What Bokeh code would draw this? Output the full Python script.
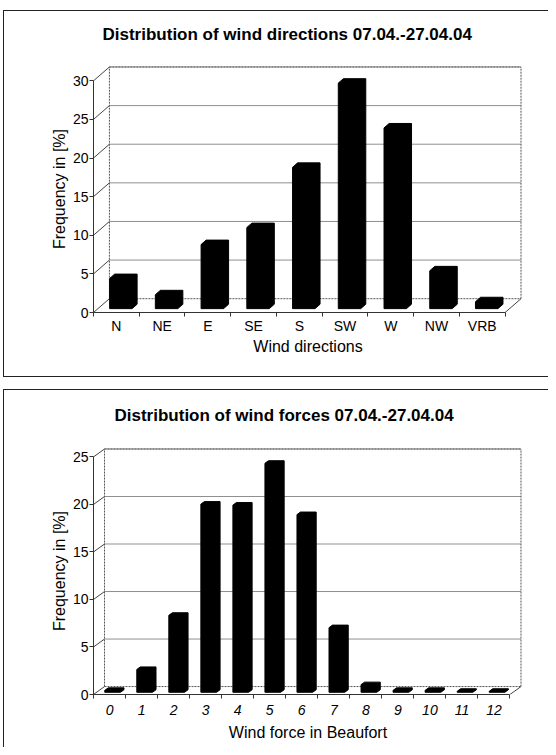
from bokeh.plotting import figure
from bokeh.models import Range1d, FixedTicker
from bokeh.layouts import column
from bokeh.embed import file_html
from bokeh.resources import INLINE

# ---------------- data ----------------
directions = ["N", "NE", "E", "SE", "S", "SW", "W", "NW", "VRB"]
direction_freq = [3.9, 1.8, 8.3, 10.5, 18.3, 29.2, 23.4, 4.9, 0.9]
direction_yticks = [0, 5, 10, 15, 20, 25, 30]

beaufort = ["0", "1", "2", "3", "4", "5", "6", "7", "8", "9", "10", "11", "12"]
beaufort_freq = [0.2, 2.4, 8.1, 19.8, 19.7, 24.1, 18.7, 6.8, 0.8, 0.2, 0.2, 0.1, 0.1]
beaufort_yticks = [0, 5, 10, 15, 20, 25]

title_directions = "Distribution of wind directions 07.04.-27.04.04"
title_forces = "Distribution of wind forces 07.04.-27.04.04"
xlabel_directions = "Wind directions"
xlabel_forces = "Wind force in Beaufort"
ylabel = "Frequency in [%]"

FONT = "Liberation Sans"


def border_css(W, top, bottom, left=3):
    h = bottom - top
    w = W - left
    return {
        "background-image": "linear-gradient(#222,#222), linear-gradient(#222,#222), linear-gradient(#222,#222)",
        "background-size": f"1px {h}px, {w}px 1px, {w}px 1px",
        "background-position": f"{left}px {top}px, {left}px {top}px, {left}px {bottom}px",
        "background-repeat": "no-repeat",
    }


def panel(cats, vals, yticks, title_text, xlabel, italic, W, H, fl, ft,
          cat_px, upx, depth_x, depth_y, border_top, border_bottom,
          title_offset, title_standoff, tick_standoff, xlabel_standoff):
    n = len(cats)
    ymax = yticks[-1]
    pad = 1.5
    dx = depth_x / cat_px
    dy = depth_y / upx
    frame_w = n * cat_px + depth_x + pad
    frame_h = ymax * upx + depth_y + pad
    top = ft - pad
    p = figure(width=W, height=H,
               x_range=Range1d(0, n + dx + pad / cat_px),
               y_range=Range1d(0, ymax + dy + pad / upx),
               min_border_left=fl, min_border_right=int(round(W - fl - frame_w)),
               min_border_top=int(round(top)), min_border_bottom=int(round(H - top - frame_h)),
               output_backend="svg", toolbar_location=None, tools="",
               styles=border_css(W, border_top, border_bottom))
    p.grid.visible = False
    p.outline_line_color = None
    p.background_fill_color = "white"
    p.border_fill_alpha = 0

    # title
    p.title.text = title_text
    p.title.align = "left"
    p.title.offset = title_offset
    p.title.standoff = title_standoff
    p.title.text_font = FONT
    p.title.text_font_size = "17px"
    p.title.text_font_style = "bold"
    p.title.text_color = "black"

    # walls: back wall gridlines
    gv = yticks[1:]
    p.segment(x0=[dx] * len(gv), y0=[v + dy for v in gv],
              x1=[n + dx] * len(gv), y1=[v + dy for v in gv],
              line_color="#8f8f8f", line_width=1)
    # side wall diagonals
    p.segment(x0=[0] * len(yticks), y0=list(yticks),
              x1=[dx] * len(yticks), y1=[v + dy for v in yticks],
              line_color="#444444", line_width=1)
    # dotted wall edges
    ex0 = [dx, dx, n + dx, dx]
    ey0 = [dy, ymax + dy, dy, dy]
    ex1 = [dx, n + dx, n + dx, n + dx]
    ey1 = [ymax + dy, ymax + dy, ymax + dy, dy]
    p.segment(x0=ex0, y0=ey0, x1=ex1, y1=ey1, line_color="#555555",
              line_width=1, line_dash="2 1")
    # floor right diagonal
    p.segment(x0=[n], y0=[0], x1=[n + dx], y1=[dy], line_color="#444444", line_width=1)

    # 3D bars
    a, b = 0.28, 0.60
    hw = 0.245
    xs, ys = [], []
    for i, v in enumerate(vals):
        c = i + 0.5
        xs.append([c - hw + a * dx, c + hw + a * dx, c + hw + b * dx,
                   c + hw + b * dx, c - hw + b * dx, c - hw + a * dx])
        ys.append([a * dy, a * dy, b * dy, v + b * dy, v + b * dy, v + a * dy])
    p.patches(xs, ys, fill_color="black", line_color="black", line_width=1)

    # y axis (front)
    ya = p.yaxis[0]
    ya.ticker = FixedTicker(ticks=list(yticks))
    ya.bounds = (0, ymax)
    ya.axis_line_color = "#333333"
    ya.major_tick_line_color = "#333333"
    ya.major_tick_out = 4
    ya.major_tick_in = 0
    ya.minor_tick_out = 0
    ya.minor_tick_in = 0
    ya.major_label_standoff = 1
    ya.major_label_text_font = FONT
    ya.major_label_text_font_size = "14px"
    ya.major_label_text_color = "black"
    ya.axis_label = ylabel
    ya.axis_label_text_font = FONT
    ya.axis_label_text_font_size = "16px"
    ya.axis_label_text_font_style = "normal"
    ya.axis_label_text_color = "black"
    ya.axis_label_standoff = 2

    # x axis (front)
    centers = [i + 0.5 for i in range(n)]
    xa = p.xaxis[0]
    xa.ticker = FixedTicker(ticks=centers, minor_ticks=list(range(n + 1)))
    xa.major_label_overrides = {c: lab for c, lab in zip(centers, cats)}
    xa.bounds = (0, n)
    xa.axis_line_color = "#333333"
    xa.major_tick_line_color = None
    xa.major_tick_out = 0
    xa.major_tick_in = 0
    xa.minor_tick_line_color = "#333333"
    xa.minor_tick_out = 4
    xa.minor_tick_in = 0
    xa.major_label_standoff = tick_standoff
    xa.major_label_text_font = FONT
    xa.major_label_text_font_size = "14px"
    xa.major_label_text_color = "black"
    if italic:
        xa.major_label_text_font_style = "italic"
    xa.axis_label = xlabel
    xa.axis_label_text_font = FONT
    xa.axis_label_text_font_size = "16px"
    xa.axis_label_text_font_style = "normal"
    xa.axis_label_text_color = "black"
    xa.axis_label_standoff = xlabel_standoff
    return p


p1 = panel(directions, direction_freq, direction_yticks, title_directions,
           xlabel_directions, False, W=548, H=380, fl=93, ft=63,
           cat_px=46, upx=7.833, depth_x=16, depth_y=14,
           border_top=10, border_bottom=376,
           title_offset=9, title_standoff=44, tick_standoff=1, xlabel_standoff=1)
p2 = panel(beaufort, beaufort_freq, beaufort_yticks, title_forces,
           xlabel_forces, True, W=548, H=367, fl=93, ft=67,
           cat_px=32, upx=9.56, depth_x=11, depth_y=8,
           border_top=9, border_bottom=420,
           title_offset=21, title_standoff=46, tick_standoff=6, xlabel_standoff=6)

layout = column(p1, p2, spacing=0)
open("out.html", "w").write(file_html(layout, INLINE))
